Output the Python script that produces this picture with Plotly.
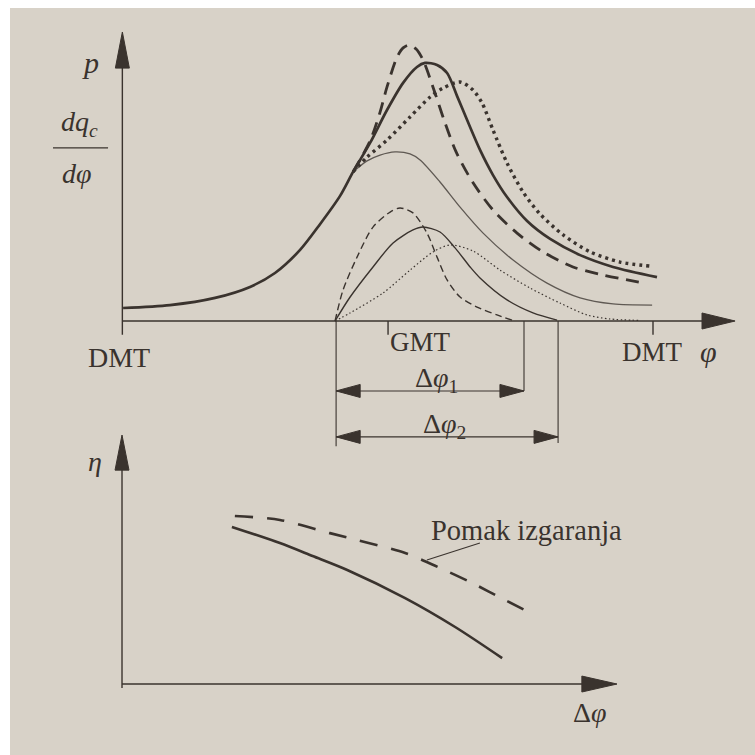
import plotly.graph_objects as go

# ---------------- data (top panel: crank angle in degrees, arbitrary units) -------------
phi_p = [-179.5, -147.7, -117.2, -93.5, -76.6, -59.6, -46.1, -32.5, -23.7, -12.2, -0.7,
         10.2, 19.6, 25.1, 33.2, 40.0, 46.7, 53.5, 62.3, 71.1, 80.6, 94.2, 109.8, 130.1,
         152.4, 182.2]
p_base = [4.5, 5.5, 8.0, 11.8, 16.6, 24.6, 33.5, 43.3, 51.6, 61.6, 73.0,
          82.4, 87.9, 89.3, 88.6, 85.8, 77.9, 69.6, 59.2, 50.5, 42.9, 34.6, 28.4, 22.8,
          18.7, 15.2]

phi_p_adv = [-23.7, -12.2, -5.4, -0.7, 6.1, 10.2, 14.2, 19.0, 23.7, 31.8, 37.9, 46.1,
             57.6, 71.1, 87.4, 105.0, 125.3, 145.7, 174.1]
p_adv = [51.6, 62.3, 72.3, 81.0, 91.3, 94.5, 95.5, 94.1, 90.3, 78.9, 69.6, 58.5,
         47.8, 38.4, 30.4, 23.9, 18.7, 15.9, 13.1]

phi_p_ret = [-23.7, -14.2, -0.7, 14.9, 28.5, 37.3, 48.8, 57.6, 63.7, 71.1, 80.6, 91.5,
             103.0, 118.6, 136.9, 157.2, 177.5]
p_ret = [51.6, 56.7, 62.6, 70.6, 77.5, 80.6, 82.7, 79.9, 75.4, 66.1, 54.7, 44.6,
         37.0, 29.8, 23.9, 20.4, 19.0]

phi_mot = [-23.7, -14.2, -5.4, 4.7, 14.9, 21.7, 35.2, 48.8, 64.4, 84.7, 107.7, 130.1,
           152.4, 178.9]
p_mot = [51.6, 55.4, 57.4, 58.5, 57.8, 55.7, 48.1, 39.4, 30.4, 21.1, 13.1, 8.0, 5.9, 5.5]

phi_q_adv = [-35.9, -30.5, -21.0, -10.2, 1.4, 8.1, 16.9, 26.4, 33.2, 40.0, 48.8, 60.3,
             73.8, 84.0]
q_adv = [0.0, 10.7, 22.1, 32.5, 37.7, 39.1, 37.4, 30.4, 22.1, 14.2, 8.3, 4.8, 2.1, 0.3]

phi_q_base = [-35.9, -25.7, -10.2, 3.4, 16.9, 23.7, 35.2, 45.4, 55.6, 62.3, 80.6, 98.2,
              114.5]
q_base = [0.0, 8.3, 18.7, 27.0, 31.5, 32.5, 30.8, 25.3, 18.7, 14.9, 7.3, 2.8, 0.3]

phi_q_ret = [-35.9, -25.7, -3.4, 14.9, 30.5, 42.0, 57.6, 75.9, 96.2, 116.5, 134.8,
             150.4, 170.7]
q_ret = [0.0, 2.8, 9.7, 17.6, 23.9, 26.3, 24.2, 17.6, 11.4, 6.2, 2.1, 0.7, 0.2]

# combustion duration markers (deg)
phi_start = -35.2
phi_end1 = 92.1
phi_end2 = 115.2

# ---------------- data (bottom panel: efficiency vs combustion duration) -----------------
dphi_shift = [22.8, 31.9, 42.0, 57.2, 63.8, 70.7, 77.4, 83.4]
eta_shift = [67.5, 65.9, 60.6, 52.6, 47.0, 40.6, 33.7, 27.7]
dphi_base = [22.2, 31.9, 38.5, 45.5, 57.2, 67.3, 76.8]
eta_base = [63.1, 56.6, 51.4, 45.8, 34.5, 22.9, 10.4]

INK = "#3a332e"
GRAY = "#5f5953"
BG = "#d8d2c8"
SERIF = "Liberation Serif"

fig = go.Figure()

def line(x, y, width, dash="solid", color=INK, xa="x", ya="y"):
    fig.add_trace(go.Scatter(x=x, y=y, mode="lines", xaxis=xa, yaxis=ya,
                             line=dict(color=color, width=width, dash=dash, shape="spline",
                                       smoothing=0.8),
                             hoverinfo="skip", showlegend=False))

# top panel curves
line(phi_mot, p_mot, 1.3, color=GRAY)
line(phi_q_ret, q_ret, 1.2, dash="1.5px,2.5px")
line(phi_q_adv, q_adv, 1.4, dash="7px,4px")
line(phi_q_base, q_base, 1.4)
line(phi_p_ret, p_ret, 3.4, dash="3px,4px")
line(phi_p_adv, p_adv, 2.8, dash="13px,8px")
line(phi_p, p_base, 2.7)

# bottom panel curves
line(dphi_shift, eta_shift, 2.6, dash="18px,14px", xa="x2", ya="y2")
line(dphi_base, eta_base, 2.6, xa="x2", ya="y2")

shapes = []

def seg(x0, y0, x1, y1, w=1.4, xr="x", yr="y", color=INK):
    shapes.append(dict(type="line", xref=xr, yref=yr, x0=x0, y0=y0, x1=x1, y1=y1,
                       line=dict(color=color, width=w)))

def tri(tip, base, half, horizontal, xr="x", yr="y"):
    tx, ty = tip
    bx, by = base
    if horizontal:
        p = f"M {bx},{by - half} L {tx},{ty} L {bx},{by + half} Z"
    else:
        p = f"M {bx - half},{by} L {tx},{ty} L {bx + half},{by} Z"
    shapes.append(dict(type="path", xref=xr, yref=yr, path=p,
                       fillcolor=INK, line=dict(color=INK, width=1)))

# top axes
seg(-180, -4.8, -180, 90)              # y axis
tri((-180, 100), (-180, 87.5), 4.74, False)
seg(-180, 0, 215, 0)                   # x axis
tri((235.1, 0), (212.7, 0), 2.77, True)
seg(0, 0, 0, -4.8)                     # GMT tick
seg(179.5, 0, 179.5, -4.8)             # DMT tick

# combustion duration dimension lines
seg(phi_start, 0, phi_start, -43.3, w=1.1)
seg(phi_end1, 0, phi_end1, -24.2, w=1.1)
seg(phi_end2, 0, phi_end2, -42.2, w=1.1)
seg(phi_start, -24.2, phi_end1, -24.2, w=1.1)
seg(phi_start, -40.1, phi_end2, -40.1, w=1.1)
tri((phi_start, -24.2), (phi_start + 16.3, -24.2), 2.25, True)
tri((phi_end1, -24.2), (phi_end1 - 16.3, -24.2), 2.25, True)
tri((phi_start, -40.1), (phi_start + 16.3, -40.1), 2.25, True)
tri((phi_end2, -40.1), (phi_end2 - 16.3, -40.1), 2.25, True)

# fraction bar of dq_c/dphi
seg(-227, 59.9, -189.7, 59.9, w=1.3)

# bottom axes
seg(0, -1.6, 0, 90, xr="x2", yr="y2")
tri((0, 100), (0, 85.9), 1.41, False, xr="x2", yr="y2")
seg(0, 0, 94, 0, xr="x2", yr="y2")
tri((100, 0), (92.9, 0), 3.2, True, xr="x2", yr="y2")
# leader line of label
seg(72.3, 56.6, 61.6, 49.8, w=1.1, xr="x2", yr="y2")

# white photo border strips
shapes.append(dict(type="rect", xref="paper", yref="paper", x0=0, x1=1, y0=1 - 8 / 755, y1=1,
                   fillcolor="white", line=dict(width=0), layer="below"))
shapes.append(dict(type="rect", xref="paper", yref="paper", x0=0, x1=10 / 755, y0=0, y1=1,
                   fillcolor="white", line=dict(width=0), layer="below"))

ann = []

def txt(x, y, s, size=27, xr="x", yr="y", xanchor="center"):
    ann.append(dict(x=x, y=y, xref=xr, yref=yr, text=s, showarrow=False,
                    xanchor=xanchor, yanchor="middle",
                    font=dict(family=SERIF, size=size, color=INK)))

txt(-201.9, 89.5, "<i>p</i>", size=30)
txt(-209.3, 68.5, "<i>dq</i><sub><i>c</i></sub>", size=28)
txt(-210.7, 51.0, "<i>dφ</i>", size=28)
txt(-182.1, -12.5, "DMT", size=28)
txt(21.7, -7.3, "GMT", size=27)
txt(178.9, -10.7, "DMT", size=27)
txt(216.8, -10.7, "<i>φ</i>", size=30)
txt(32.5, -20.4, "Δ<i>φ</i><sub>1</sub>", size=28)
txt(37.9, -36.3, "Δ<i>φ</i><sub>2</sub>", size=28)

txt(-5.45, 89.2, "<i>η</i>", size=28, xr="x2", yr="y2")
txt(94.5, -11.6, "Δ<i>φ</i>", size=28, xr="x2", yr="y2")
txt(81.8, 61.8, "Pomak izgaranja", size=28.5, xr="x2", yr="y2")

hidden = dict(visible=False, showgrid=False, zeroline=False, fixedrange=True)
fig.update_layout(
    width=755, height=755, autosize=False,
    margin=dict(l=0, r=0, t=0, b=0),
    paper_bgcolor=BG, plot_bgcolor="rgba(0,0,0,0)",
    xaxis=dict(domain=[0, 1], range=[-262.9, 248.6], anchor="y", **hidden),
    yaxis=dict(domain=[0, 1], range=[-150.17, 111.07], anchor="x", **hidden),
    xaxis2=dict(domain=[0, 1], range=[-24.65, 127.88], anchor="y2", **hidden),
    yaxis2=dict(domain=[0, 1], range=[-28.5, 274.7], anchor="x2", **hidden),
    shapes=shapes, annotations=ann, showlegend=False,
)

fig.write_html("out.html", config={"displayModeBar": False, "staticPlot": True},
               post_script="document.body.style.margin='0';document.body.style.overflow='hidden';")
